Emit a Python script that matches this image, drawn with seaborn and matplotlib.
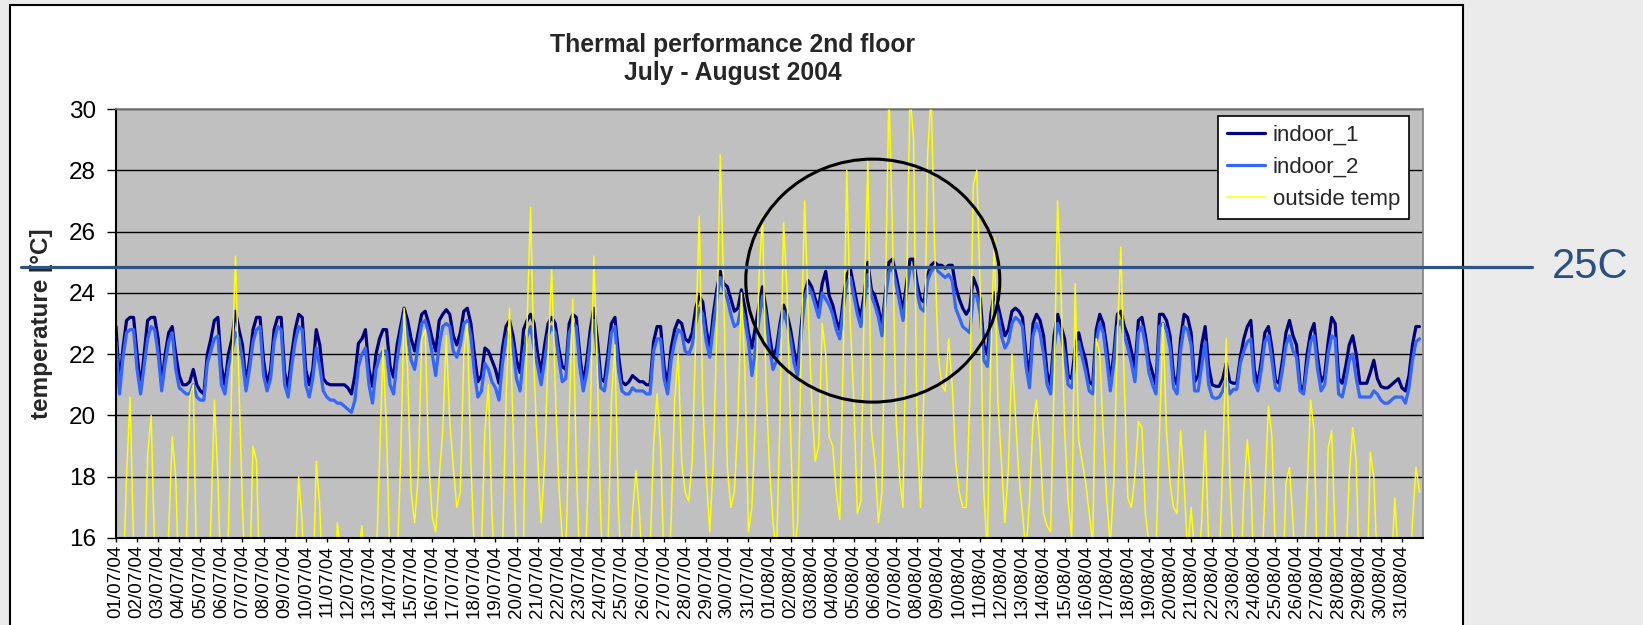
import numpy as np
import pandas as pd
import matplotlib
matplotlib.use('Agg')
import matplotlib.pyplot as plt
import matplotlib.dates as mdates
import matplotlib.transforms as mtransforms
from matplotlib.patches import Rectangle, Ellipse
from matplotlib.lines import Line2D
import seaborn as sns

# readings every 4 hours (00,04,08,12,16,20h), one row per day, 01/07/04 .. 31/08/04
indoor_1 = [
    [22.9, 21.0, 22.2, 23.1, 23.2, 23.2], [22.0, 20.9, 22.0, 23.1, 23.2, 23.2],
    [22.5, 21.0, 22.0, 22.7, 22.9, 22.0], [21.3, 21.0, 21.0, 21.1, 21.5, 21.0],
    [20.8, 20.7, 22.0, 22.5, 23.1, 23.2], [21.6, 21.0, 22.0, 22.5, 23.4, 22.8],
    [22.3, 21.0, 21.8, 22.8, 23.2, 23.2], [21.8, 21.0, 21.5, 22.8, 23.2, 23.2],
    [21.4, 20.9, 22.0, 22.8, 23.3, 23.2], [21.5, 21.0, 21.5, 22.8, 22.3, 21.2],
    [21.05, 21.0, 21.0, 21.0, 21.0, 21.0], [20.9, 20.7, 21.3, 22.35, 22.5, 22.8],
    [21.5, 20.95, 22.0, 22.5, 22.8, 22.8], [21.6, 21.25, 22.3, 22.9, 23.5, 23.1],
    [22.5, 22.1, 22.7, 23.3, 23.4, 23.0], [22.5, 22.1, 23.1, 23.3, 23.45, 23.3],
    [22.6, 22.3, 22.7, 23.4, 23.5, 23.0], [22.0, 21.1, 21.3, 22.2, 22.1, 21.8],
    [21.5, 21.05, 22.2, 22.9, 23.1, 22.6], [21.8, 21.4, 22.8, 23.1, 23.3, 23.0],
    [22.0, 21.4, 22.3, 23.0, 23.2, 23.0], [22.2, 21.6, 21.5, 23.0, 23.3, 23.2],
    [22.0, 21.0, 21.8, 22.8, 23.5, 22.5], [21.2, 21.1, 22.0, 23.0, 23.2, 22.0],
    [21.1, 21.0, 21.1, 21.3, 21.2, 21.1], [21.1, 21.0, 21.0, 22.4, 22.9, 22.9],
    [21.6, 21.0, 22.2, 22.8, 23.1, 23.0], [22.5, 22.4, 22.7, 23.5, 23.9, 23.7],
    [22.8, 22.2, 23.3, 24.1, 24.7, 24.3], [24.2, 23.8, 23.4, 23.5, 24.1, 23.5],
    [22.7, 22.2, 22.9, 23.6, 24.2, 23.5], [22.6, 21.9, 22.2, 23.0, 23.6, 23.3],
    [22.8, 22.1, 21.6, 22.9, 24.0, 24.4], [24.2, 23.8, 23.5, 24.3, 24.7, 23.9],
    [23.6, 23.1, 22.8, 23.8, 24.6, 24.8], [24.2, 23.6, 23.2, 24.0, 25.0, 24.1],
    [23.9, 23.5, 22.9, 24.0, 25.0, 25.1], [24.6, 24.0, 23.4, 24.3, 25.1, 25.1],
    [24.3, 23.8, 23.7, 24.6, 24.9, 25.0], [24.9, 24.9, 24.8, 24.9, 24.9, 24.2],
    [23.8, 23.5, 23.3, 23.5, 24.5, 24.2], [23.8, 22.3, 22.0, 23.3, 24.0, 23.6],
    [23.1, 22.6, 22.8, 23.4, 23.5, 23.4], [23.2, 22.0, 21.3, 23.0, 23.3, 23.1],
    [22.6, 21.4, 21.0, 22.6, 23.3, 22.9], [22.5, 21.3, 21.2, 22.2, 22.7, 22.2],
    [21.8, 21.1, 21.0, 22.8, 23.3, 23.0], [22.2, 21.1, 22.0, 23.3, 23.4, 22.9],
    [22.6, 22.1, 21.5, 23.1, 23.2, 22.6], [21.8, 21.4, 21.0, 23.3, 23.3, 23.1],
    [22.6, 21.3, 21.0, 22.5, 23.3, 23.2], [22.7, 21.1, 21.3, 22.3, 22.9, 21.6],
    [21.0, 20.95, 20.95, 21.2, 21.7, 21.1], [21.05, 21.05, 21.9, 22.5, 22.9, 23.1],
    [21.5, 21.0, 21.8, 22.7, 22.9, 22.2], [21.15, 21.05, 21.8, 22.7, 23.1, 22.6],
    [22.3, 21.0, 20.8, 22.0, 22.7, 23.0], [21.9, 21.1, 21.3, 22.4, 23.2, 23.0],
    [21.2, 21.05, 21.6, 22.3, 22.6, 22.0], [21.05, 21.05, 21.05, 21.4, 21.8, 21.2],
    [20.95, 20.9, 20.9, 21.0, 21.1, 21.2], [20.9, 20.8, 21.3, 22.3, 22.9, 22.9],
]

indoor_2 = [
    [22.4, 20.7, 21.9, 22.7, 22.8, 22.8], [21.5, 20.7, 21.6, 22.5, 22.9, 22.8],
    [22.0, 20.8, 21.7, 22.4, 22.7, 21.5], [20.9, 20.8, 20.7, 20.7, 21.0, 20.6],
    [20.5, 20.5, 21.7, 22.1, 22.5, 22.6], [21.0, 20.7, 21.6, 22.1, 22.7, 22.5],
    [21.8, 20.8, 21.5, 22.4, 22.8, 22.9], [21.3, 20.8, 21.2, 22.4, 22.9, 22.8],
    [21.0, 20.6, 21.6, 22.4, 22.9, 22.8], [21.0, 20.6, 21.2, 22.2, 21.6, 20.8],
    [20.6, 20.5, 20.5, 20.4, 20.4, 20.3], [20.2, 20.1, 20.5, 21.6, 22.0, 22.2],
    [21.0, 20.4, 21.5, 21.9, 22.1, 22.1], [21.0, 20.7, 21.8, 22.6, 23.3, 22.6],
    [21.8, 21.5, 22.3, 23.0, 23.1, 22.7], [22.0, 21.3, 22.3, 22.9, 23.0, 22.9],
    [22.1, 21.9, 22.3, 23.0, 23.1, 22.6], [21.4, 20.6, 20.8, 21.7, 21.5, 21.1],
    [20.9, 20.5, 21.7, 22.5, 22.8, 22.2], [21.2, 20.8, 22.0, 22.6, 22.9, 22.2],
    [21.6, 21.0, 21.8, 22.6, 22.9, 22.7], [21.9, 21.1, 21.2, 22.7, 23.0, 22.9],
    [21.6, 20.8, 21.4, 22.4, 23.1, 22.0], [20.9, 20.8, 21.6, 22.7, 22.9, 21.5],
    [20.8, 20.7, 20.7, 20.9, 20.8, 20.8], [20.8, 20.7, 20.7, 22.1, 22.5, 22.5],
    [21.2, 20.7, 21.8, 22.4, 22.8, 22.7], [22.1, 22.0, 22.3, 23.0, 23.5, 23.3],
    [22.4, 21.9, 22.9, 23.8, 24.5, 24.1], [23.8, 23.3, 22.9, 23.0, 23.6, 23.1],
    [22.4, 21.3, 22.2, 23.1, 23.9, 23.2], [22.2, 21.5, 21.8, 22.8, 23.4, 23.0],
    [22.5, 21.7, 21.3, 22.6, 23.8, 24.2], [24.0, 23.6, 23.2, 24.0, 23.8, 23.6],
    [23.3, 22.8, 22.5, 23.5, 24.3, 24.5], [23.9, 23.3, 22.9, 23.7, 24.6, 23.9],
    [23.6, 23.2, 22.6, 23.8, 24.7, 24.8], [24.3, 23.7, 23.1, 24.0, 24.8, 24.8],
    [24.0, 23.5, 23.4, 24.4, 24.7, 24.8], [24.7, 24.6, 24.5, 24.6, 24.4, 23.5],
    [23.2, 22.9, 22.8, 22.7, 23.9, 23.9], [23.3, 21.8, 21.6, 22.8, 23.6, 23.3],
    [22.6, 22.2, 22.4, 23.0, 23.2, 23.1], [22.9, 21.6, 20.9, 22.6, 23.0, 22.7],
    [22.0, 21.0, 20.7, 22.2, 23.0, 22.6], [22.0, 21.0, 20.9, 21.8, 22.4, 21.9],
    [21.4, 20.8, 20.7, 22.4, 23.0, 22.7], [21.8, 20.8, 21.7, 22.9, 23.1, 22.6],
    [22.2, 21.7, 21.1, 22.7, 22.9, 22.3], [21.4, 21.0, 20.7, 22.9, 23.0, 22.8],
    [22.2, 20.9, 20.7, 22.1, 22.9, 22.8], [22.3, 20.8, 20.8, 21.6, 22.4, 21.0],
    [20.6, 20.55, 20.6, 20.8, 21.2, 20.7], [20.85, 20.85, 21.7, 22.1, 22.4, 22.5],
    [21.1, 20.8, 21.5, 22.4, 22.6, 21.8], [20.9, 20.8, 21.5, 22.3, 22.6, 22.1],
    [21.9, 20.8, 20.7, 21.6, 22.4, 22.6], [21.5, 20.8, 21.0, 22.0, 22.6, 22.5],
    [20.7, 20.6, 21.1, 21.8, 22.0, 21.2], [20.6, 20.6, 20.6, 20.6, 20.8, 20.7],
    [20.5, 20.4, 20.4, 20.5, 20.6, 20.6], [20.6, 20.4, 20.9, 21.8, 22.4, 22.5],
]

outside_temp = [
    [13.0, 12.5, 14.5, 18.0, 20.6, 15.8], [13.0, 12.5, 14.0, 18.7, 20.0, 15.5],
    [13.0, 12.5, 13.5, 16.2, 19.3, 18.0], [14.0, 13.0, 15.5, 20.6, 21.0, 14.5],
    [13.5, 13.0, 13.0, 16.5, 20.5, 18.0], [14.0, 13.5, 16.2, 21.5, 25.2, 21.0],
    [17.0, 14.0, 14.5, 19.0, 18.5, 14.0], [12.5, 12.0, 13.0, 15.0, 15.5, 13.5],
    [12.5, 12.0, 13.0, 15.0, 18.0, 16.5], [13.0, 12.5, 14.0, 18.5, 17.0, 14.0],
    [12.5, 12.0, 13.0, 16.5, 15.5, 13.5], [12.5, 12.0, 13.5, 15.5, 16.4, 14.0],
    [13.0, 12.5, 15.0, 18.5, 22.2, 19.5], [15.0, 13.5, 15.0, 18.5, 23.5, 21.5],
    [17.5, 16.5, 18.0, 22.5, 22.8, 18.5], [16.7, 16.2, 18.0, 19.5, 22.6, 19.8],
    [18.3, 17.0, 17.5, 22.0, 23.0, 18.5], [15.5, 14.0, 15.5, 19.5, 21.0, 16.8],
    [14.5, 13.5, 15.5, 20.5, 23.5, 19.7], [15.0, 14.5, 16.0, 23.0, 26.8, 21.5],
    [18.7, 16.5, 18.5, 22.0, 24.8, 21.0], [17.8, 16.0, 15.2, 20.0, 23.8, 18.5],
    [15.0, 14.0, 16.5, 20.0, 25.2, 21.5], [16.5, 14.0, 15.5, 20.5, 22.3, 17.0],
    [14.5, 13.5, 14.0, 16.8, 18.2, 16.8], [14.5, 13.5, 15.5, 19.0, 20.7, 19.0],
    [15.0, 14.5, 16.5, 20.5, 22.0, 18.5], [17.5, 17.2, 18.5, 22.5, 26.5, 20.5],
    [18.0, 16.2, 18.5, 22.8, 28.5, 24.0], [18.3, 17.0, 17.5, 19.8, 24.0, 21.5],
    [16.2, 17.0, 20.0, 24.5, 26.5, 21.0], [18.3, 16.5, 15.5, 20.0, 26.3, 24.0],
    [19.5, 15.5, 16.5, 22.0, 27.0, 23.5], [20.5, 18.5, 19.0, 23.0, 22.0, 19.3],
    [19.0, 17.5, 16.6, 22.0, 28.0, 23.0], [20.5, 16.8, 17.2, 24.0, 28.3, 19.5],
    [18.5, 16.5, 17.5, 24.0, 30.5, 26.0], [20.0, 18.0, 17.0, 24.0, 30.5, 29.0],
    [19.5, 17.0, 21.0, 28.5, 30.5, 25.5], [22.0, 21.0, 20.8, 22.5, 21.0, 18.5],
    [17.5, 17.0, 17.0, 20.5, 27.5, 28.0], [24.0, 17.5, 15.5, 22.0, 25.8, 20.5],
    [18.5, 16.5, 18.3, 22.0, 20.0, 18.0], [16.8, 15.5, 17.2, 19.8, 20.5, 19.0],
    [16.8, 16.4, 16.2, 21.0, 27.0, 24.0], [19.5, 17.2, 16.0, 24.3, 19.2, 18.5],
    [17.8, 16.8, 15.8, 22.5, 22.0, 19.4], [17.2, 15.8, 17.8, 22.5, 25.5, 21.0],
    [17.3, 17.0, 18.0, 19.8, 19.6, 16.8], [15.8, 14.5, 15.5, 19.5, 23.0, 19.5],
    [17.8, 17.0, 16.8, 19.5, 17.8, 15.5], [17.0, 15.5, 15.0, 16.5, 19.5, 15.8],
    [13.5, 13.5, 15.0, 18.5, 22.5, 18.0], [15.5, 13.5, 14.0, 17.5, 19.2, 17.8],
    [14.5, 13.5, 14.5, 17.5, 20.3, 19.3], [15.5, 13.5, 14.0, 17.8, 18.3, 16.5],
    [14.0, 13.5, 14.5, 17.5, 20.5, 19.5], [14.5, 13.5, 14.0, 18.9, 19.5, 16.0],
    [14.0, 13.5, 15.0, 18.0, 19.6, 18.5], [14.0, 13.5, 14.0, 18.8, 18.0, 15.0],
    [13.5, 13.0, 13.5, 15.0, 17.3, 15.2], [13.5, 13.0, 14.0, 16.5, 18.3, 17.5],
]

threshold = 24.85          # the "25C" reference line
circle_day = 35.9          # marked hot period, days after 01/07
circle_temp = 24.4
circle_w_days = 12.05
circle_h_temp = 7.93

times = pd.date_range('2004-07-01', periods=len(indoor_1) * 6, freq='4h')
days = pd.date_range('2004-07-01', '2004-08-31', freq='D')
day_labels = days.strftime('%d/%m/%y')

sns.set_style('white')
plt.rcParams['font.family'] = ['Liberation Sans', 'DejaVu Sans']

W, H = 1643, 625
fig = plt.figure(figsize=(W / 100, H / 100), dpi=100)
fig.patch.set_facecolor('#ebebeb')
fig.add_artist(Rectangle((10 / W, -0.05), 1453 / W, 1.05 - 5 / H, transform=fig.transFigure,
                         facecolor='white', edgecolor='black', lw=1.5, zorder=-1))

ax = fig.add_axes([116 / W, 1 - 538 / H, 1307 / W, 429 / H])
ax.set_facecolor('#c0c0c0')

sns.lineplot(x=times, y=np.ravel(indoor_1), ax=ax, color='#000080', lw=2.3, label='indoor_1')
sns.lineplot(x=times, y=np.ravel(indoor_2), ax=ax, color='#3366ff', lw=2.3, label='indoor_2')
sns.lineplot(x=times, y=np.ravel(outside_temp), ax=ax, color='#ffff00', lw=1.1, label='outside temp')

ax.set_ylim(16, 30)
ax.set_yticks(range(16, 31, 2))
ax.set_xlim(times[0], pd.Timestamp('2004-09-01'))
ax.set_xticks(days)
ax.set_xticklabels(day_labels, rotation=90)
ax.grid(axis='y', color='black', lw=1.0)
ax.grid(axis='x', visible=False)
ax.set_axisbelow(True)
ax.set_xlabel('')
ax.set_ylabel('temperature [°C]', fontsize=17.5, fontweight='bold')
ax.yaxis.set_label_coords(-0.048, 0.5)

for s in ['top', 'right']:
    ax.spines[s].set_color('#808080')
    ax.spines[s].set_linewidth(1.2)
for s in ['left', 'bottom']:
    ax.spines[s].set_color('black')
    ax.spines[s].set_linewidth(1.5)

ax.tick_params(axis='y', left=True, length=6.5, width=1, labelsize=17.5, pad=8, colors='black')
ax.tick_params(axis='x', bottom=True, length=3, width=1, labelsize=13.5, pad=2, colors='black')

leg = ax.legend(loc='upper right', bbox_to_anchor=(1409 / W, 1 - 116 / H), bbox_transform=fig.transFigure,
                borderaxespad=0, frameon=True, fancybox=False, edgecolor='black', framealpha=1,
                fontsize=16, handlelength=1.7, handletextpad=0.35, labelspacing=0.5, borderpad=0.4)
leg.get_frame().set_linewidth(1.2)

# circle around the hot period
x0 = mdates.date2num(pd.Timestamp('2004-07-01'))
ax.add_patch(Ellipse((x0 + circle_day, circle_temp), circle_w_days, circle_h_temp,
                     fill=False, edgecolor='black', lw=2.2, zorder=4))

fig.text(0.446, 1 - 52 / H, 'Thermal performance 2nd floor', ha='center', va='baseline',
         fontsize=17.8, fontweight='bold')
fig.text(0.446, 1 - 80 / H, 'July - August 2004', ha='center', va='baseline',
         fontsize=17.8, fontweight='bold')

# 25C line runs across the whole figure
trans = mtransforms.blended_transform_factory(fig.transFigure, ax.transData)
fig.add_artist(Line2D([21 / W, 1532 / W], [threshold, threshold], transform=trans,
                      color='#2f5485', lw=2.3, zorder=5))
fig.text(1552 / W, threshold, '25C', transform=trans, ha='left', va='center',
         fontsize=30, color='#2a4f80')

fig.savefig('out.png', dpi=100, facecolor=fig.get_facecolor())
